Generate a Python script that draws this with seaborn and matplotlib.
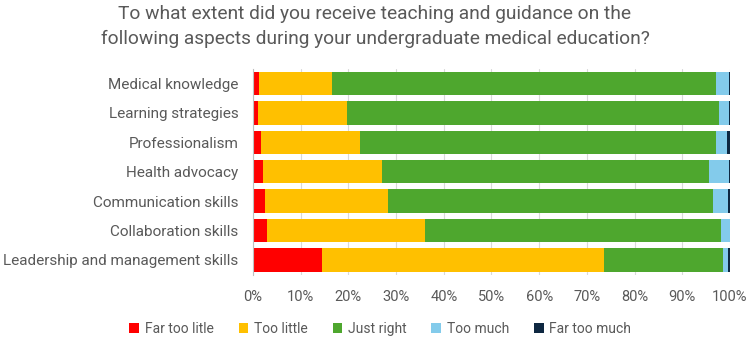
import numpy as np
import pandas as pd
import matplotlib
matplotlib.use('Agg')
import matplotlib.pyplot as plt
import seaborn as sns
from matplotlib.patches import Patch

# 설문 데이터 (퍼센트, 그림에서 읽은 값)
aspects = ['Medical knowledge', 'Learning strategies', 'Professionalism', 'Health advocacy',
           'Communication skills', 'Collaboration skills', 'Leadership and management skills']
far_too_little = [1.3, 1.0, 1.6, 2.0, 2.5, 2.9, 14.4]
too_little = [15.2, 18.8, 20.8, 25.0, 25.8, 33.1, 59.2]
just_right = [80.5, 77.8, 74.7, 68.7, 68.1, 62.1, 24.9]
too_much = [2.7, 2.1, 2.3, 4.2, 3.2, 1.9, 1.1]
far_too_much = [0.3, 0.3, 0.6, 0.1, 0.4, 0.0, 0.4]

levels = ['Far too litle', 'Too little', 'Just right', 'Too much', 'Far too much']
colors = ['#FF0000', '#FFC000', '#4EA72E', '#83CBEB', '#0E2841']
grey = '#595959'

sns.set_style('white')
plt.rcParams['font.family'] = ['Roboto', 'DejaVu Sans']

df = pd.DataFrame({'aspect': aspects, levels[0]: far_too_little, levels[1]: too_little,
                   levels[2]: just_right, levels[3]: too_much, levels[4]: far_too_much})
cum = df[levels].cumsum(axis=1)

fig = plt.figure(figsize=(7.5, 3.39), dpi=100)
ax = fig.add_axes([0.3373, 0.19, 0.636, 0.607])

# 누적 막대: 큰 값부터 겹쳐 그림
for lev, col in reversed(list(zip(levels, colors))):
    sns.barplot(x=cum[lev], y=df['aspect'], color=col, width=0.79, linewidth=0,
                saturation=1, orient='h', ax=ax, zorder=2)

ax.set_xlim(0, 100)
ax.set_ylim(6.5, -0.5)
ax.set_xticks(np.arange(0, 101, 10))
ax.set_xticklabels([f'{t}%' for t in range(0, 101, 10)])
ax.set_xlabel('')
ax.set_ylabel('')
ax.grid(axis='x', color='#D9D9D9', linewidth=0.8, zorder=0)
ax.set_axisbelow(True)
for s in ['top', 'right', 'bottom']:
    ax.spines[s].set_visible(False)
ax.spines['left'].set_color('#BFBFBF')
ax.set_yticks(np.arange(-0.5, 7, 1), minor=True)
ax.tick_params(axis='y', which='minor', length=4, color='#BFBFBF')
ax.tick_params(axis='y', which='major', length=0, labelsize=11, labelcolor=grey, pad=10.5)
ax.tick_params(axis='x', length=0, labelsize=10.5, labelcolor=grey, pad=11)

fig.suptitle('To what extent did you receive teaching and guidance on the\n'
             'following aspects during your undergraduate medical education?',
             x=0.5, y=0.985, fontsize=13.8, color=grey, linespacing=1.45)

handles = [Patch(facecolor=c, edgecolor='none') for c in colors]
fig.legend(handles, levels, loc='center', bbox_to_anchor=(0.507, 0.03), ncol=5,
           frameon=False, fontsize=10, labelcolor=grey, handlelength=0.7,
           handleheight=0.7, handletextpad=0.4, columnspacing=1.8)

fig.savefig('out.png', dpi=100)
